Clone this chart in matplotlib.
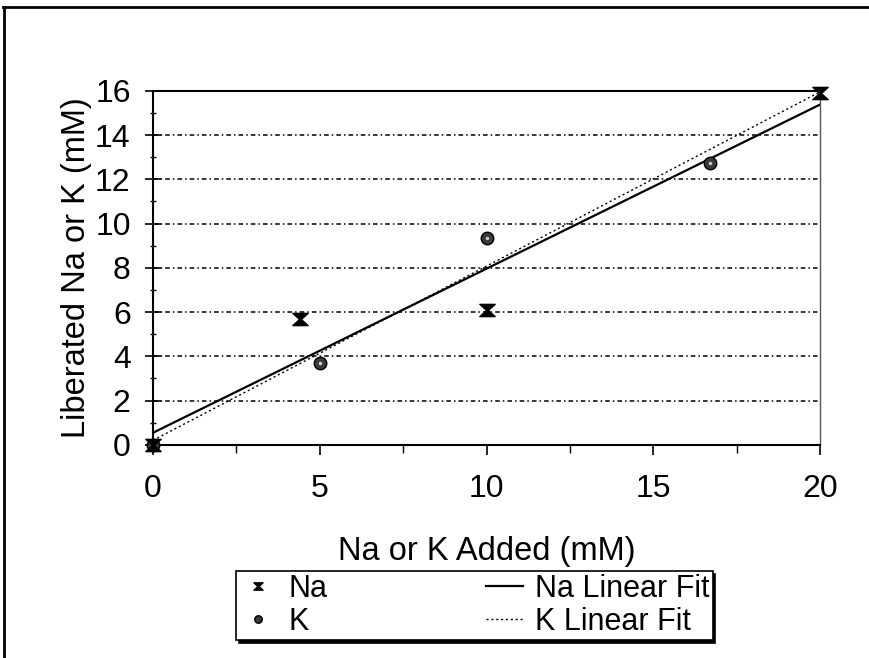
import numpy as np
import matplotlib
matplotlib.use("Agg")
import matplotlib.pyplot as plt
from matplotlib.path import Path
from matplotlib.lines import Line2D
from matplotlib.ticker import MultipleLocator

plt.rcParams['font.family'] = ['Liberation Sans', 'DejaVu Sans']

na_x = [0, 4.4, 10, 20]
na_y = [0, 5.7, 6.1, 15.9]
k_x = [0, 5, 10, 16.7]
k_y = [0, 3.7, 9.35, 12.73]

xticks = [0, 5, 10, 15, 20]
yticks = [0, 2, 4, 6, 8, 10, 12, 14, 16]

fig = plt.figure(figsize=(8.69, 6.58), dpi=100)
ax = fig.add_axes([0.176, 0.324, 0.768, 0.538])

# hourglass marker
hg = Path([(-1, 0.8), (1, 0.8), (0.12, 0), (1, -0.8), (-1, -0.8), (-0.12, 0), (-1, 0.8)],
          [Path.MOVETO, Path.LINETO, Path.LINETO, Path.LINETO, Path.LINETO, Path.LINETO, Path.CLOSEPOLY])

# grid lines
for yv in yticks[1:-1]:
    ax.axhline(yv, color='black', lw=1.1, ls=(0, (3, 2, 1, 2)), zorder=1)

# fits
xx = np.array([0, 20])
pna = np.polyfit(na_x, na_y, 1)
pk = np.polyfit(k_x, k_y, 1)
l_nafit, = ax.plot(xx, np.polyval(pna, xx), color='black', lw=1.6, zorder=3, label='Na Linear Fit')
l_kfit, = ax.plot(xx, np.polyval(pk, xx), color='black', lw=1.0, ls=(0, (1.5, 2)), zorder=3, label='K Linear Fit')

l_na, = ax.plot(na_x, na_y, ls='none', marker=hg, markersize=11, color='black', zorder=5, label='Na', clip_on=False)
l_k, = ax.plot(k_x, k_y, ls='none', marker='o', markersize=9, markerfacecolor='#3a3a3a',
               markeredgecolor='black', zorder=4, label='K', clip_on=False)
ax.plot(k_x, k_y, ls='none', marker='.', markersize=3, color='#cccccc', zorder=4, clip_on=False)

ax.set_xlim(0, 20)
ax.set_ylim(0, 16)
ax.set_xticks(xticks)
ax.set_yticks(yticks)
ax.xaxis.set_minor_locator(MultipleLocator(2.5))
ax.yaxis.set_minor_locator(MultipleLocator(1))
ax.tick_params(axis='x', which='major', direction='out', length=7, width=1.2, labelsize=23, pad=14)
ax.tick_params(axis='x', which='minor', direction='out', length=6, width=1.0)
ax.tick_params(axis='y', which='major', direction='inout', length=12, width=1.2, labelsize=23, pad=10)
ax.tick_params(axis='y', which='minor', direction='inout', length=5, width=1.0)

for s in ['left', 'bottom']:
    ax.spines[s].set_linewidth(1.5)
ax.spines['top'].set_linewidth(1.5)
ax.spines['right'].set_linewidth(1.0)
ax.spines['right'].set_color('#555555')

ax.set_xlabel('Na or K Added (mM)', fontsize=23.5, labelpad=23)
ax.set_ylabel('Liberated Na or K (mM)', fontsize=23.5, labelpad=2)

leg = fig.legend(handles=[l_na, l_k, l_nafit, l_kfit], ncol=2, loc='lower left',
                 bbox_to_anchor=(0.272, 0.027, 0.548, 0.113), mode='expand',
                 fontsize=22, frameon=True, fancybox=False, shadow={'color': 'black', 'alpha': 1},
                 edgecolor='black', handlelength=1.2, handletextpad=0.4, borderpad=0.1,
                 labelspacing=0.1, markerscale=0.6, borderaxespad=0)
leg.get_frame().set_linewidth(1.2)
leg.get_frame().set_alpha(1)

# outer frame (top and left)
fig.add_artist(Line2D([0.004, 1.0], [0.989, 0.989], transform=fig.transFigure, color='black', lw=2))
fig.add_artist(Line2D([0.005, 0.005], [0.0, 0.989], transform=fig.transFigure, color='black', lw=2))

fig.savefig('out.png', dpi=100)
